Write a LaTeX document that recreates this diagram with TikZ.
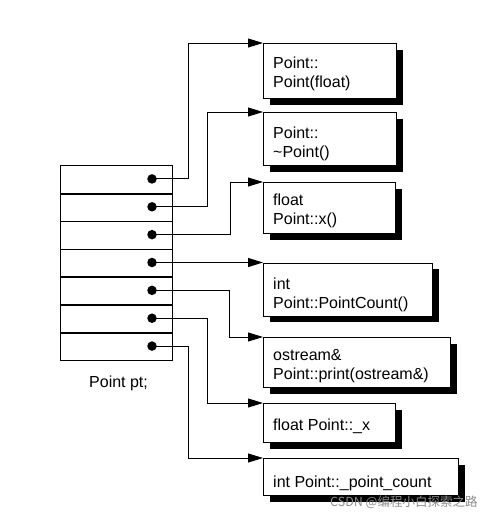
\documentclass[tikz,border=0pt]{standalone}
\usepackage{fontspec}
\setmainfont{Liberation Sans}
\newfontfamily\cjkfont{Noto Sans CJK SC}
\usetikzlibrary{arrows.meta,shadows}
\begin{document}
\begin{tikzpicture}[x=1pt,y=-1pt,
  row/.style={draw, line width=0.9pt, minimum width=112pt, minimum height=27.86pt, inner sep=0pt, anchor=north west},
  sep/.style={line width=1.7pt},
  dot/.style={circle, fill=black, minimum size=9.5pt, inner sep=0pt},
  box/.style={draw, line width=1.1pt, fill=white, inner sep=0pt, anchor=north west,
    drop shadow={shadow xshift=6pt, shadow yshift=-6pt, opacity=1, fill=black}},
  lbl/.style={font=\fontsize{16}{19}\selectfont, align=left, inner sep=0pt, anchor=north west},
  conn/.style={line width=1pt, -{Triangle[length=15pt,width=9pt]}}
]
\useasboundingbox (0,0) rectangle (500,517);

% object table
\node[row] (r1) at (60,165) {};
\node[row] (r2) at (60,192.86) {};
\node[row] (r3) at (60,220.71) {};
\node[row] (r4) at (60,248.57) {};
\node[row] (r5) at (60,276.43) {};
\node[row] (r6) at (60,304.29) {};
\node[row] (r7) at (60,332.14) {};
\foreach \i in {1,...,6} \draw[sep] (r\i.south west) -- (r\i.south east);

\node[anchor=base west, font=\fontsize{16}{19}\selectfont, inner sep=0pt] (cap) at (89,387) {Point pt;};

% slot dots
\node[dot] (d1) at (152,178.93) {};
\node[dot] (d2) at (152,206.79) {};
\node[dot] (d3) at (152,234.64) {};
\node[dot] (d4) at (152,262.50) {};
\node[dot] (d5) at (152,290.36) {};
\node[dot] (d6) at (152,318.21) {};
\node[dot] (d7) at (152,346.07) {};

% member boxes
\node[box, minimum width=133pt, minimum height=55pt] (b1) at (263,43) {};
\node[box, minimum width=133pt, minimum height=53pt] (b2) at (263,112) {};
\node[box, minimum width=132pt, minimum height=51pt] (b3) at (263,182) {};
\node[box, minimum width=169pt, minimum height=53pt] (b4) at (263,262.5) {};
\node[box, minimum width=187pt, minimum height=50pt] (b5) at (263,337) {};
\node[box, minimum width=132pt, minimum height=39pt] (b6) at (263,403) {};
\node[box, minimum width=195pt, minimum height=37pt] (b7) at (263,458) {};

\node[lbl] (t1) at (273,56.5) {Point::\\Point(float)};
\node[lbl] (t2) at (273,126.5) {Point::\\\textasciitilde Point()};
\node[lbl] (t3) at (273,193.5) {float\\Point::x()};
\node[lbl] (t4) at (273,277.5) {int\\Point::PointCount()};
\node[lbl] (t5) at (273,349.5) {ostream\&\\Point::print(ostream\&)};
\node[lbl] (t6) at (273,418.5) {float Point::\_x};
\node[lbl] (t7) at (273,475.5) {int Point::\_point\_count};

% routing bends
\coordinate (k1) at (188,178.93);
\coordinate (k2) at (207,206.79);
\coordinate (k3) at (230,234.64);
\coordinate (k5) at (229,290.36);
\coordinate (k6) at (207,318.21);
\coordinate (k7) at (188,346.07);

\draw[conn] (d1.center) -- (k1) |- (b1.north west);
\draw[conn] (d2.center) -- (k2) |- (b2.north west);
\draw[conn] (d3.center) -- (k3) |- (b3.north west);
\draw[conn] (d4.center) -- (b4.north west);
\draw[conn] (d5.center) -- (k5) |- (b5.north west);
\draw[conn] (d6.center) -- (k6) |- (b6.north west);
\draw[conn] (d7.center) -- (k7) |- (b7.north west);

\node[anchor=base west, inner sep=0pt, text=black!45, font=\cjkfont\fontsize{12.5}{13}\selectfont] (wm) at (330,506) {CSDN @编程小白探索之路};
\end{tikzpicture}
\end{document}
